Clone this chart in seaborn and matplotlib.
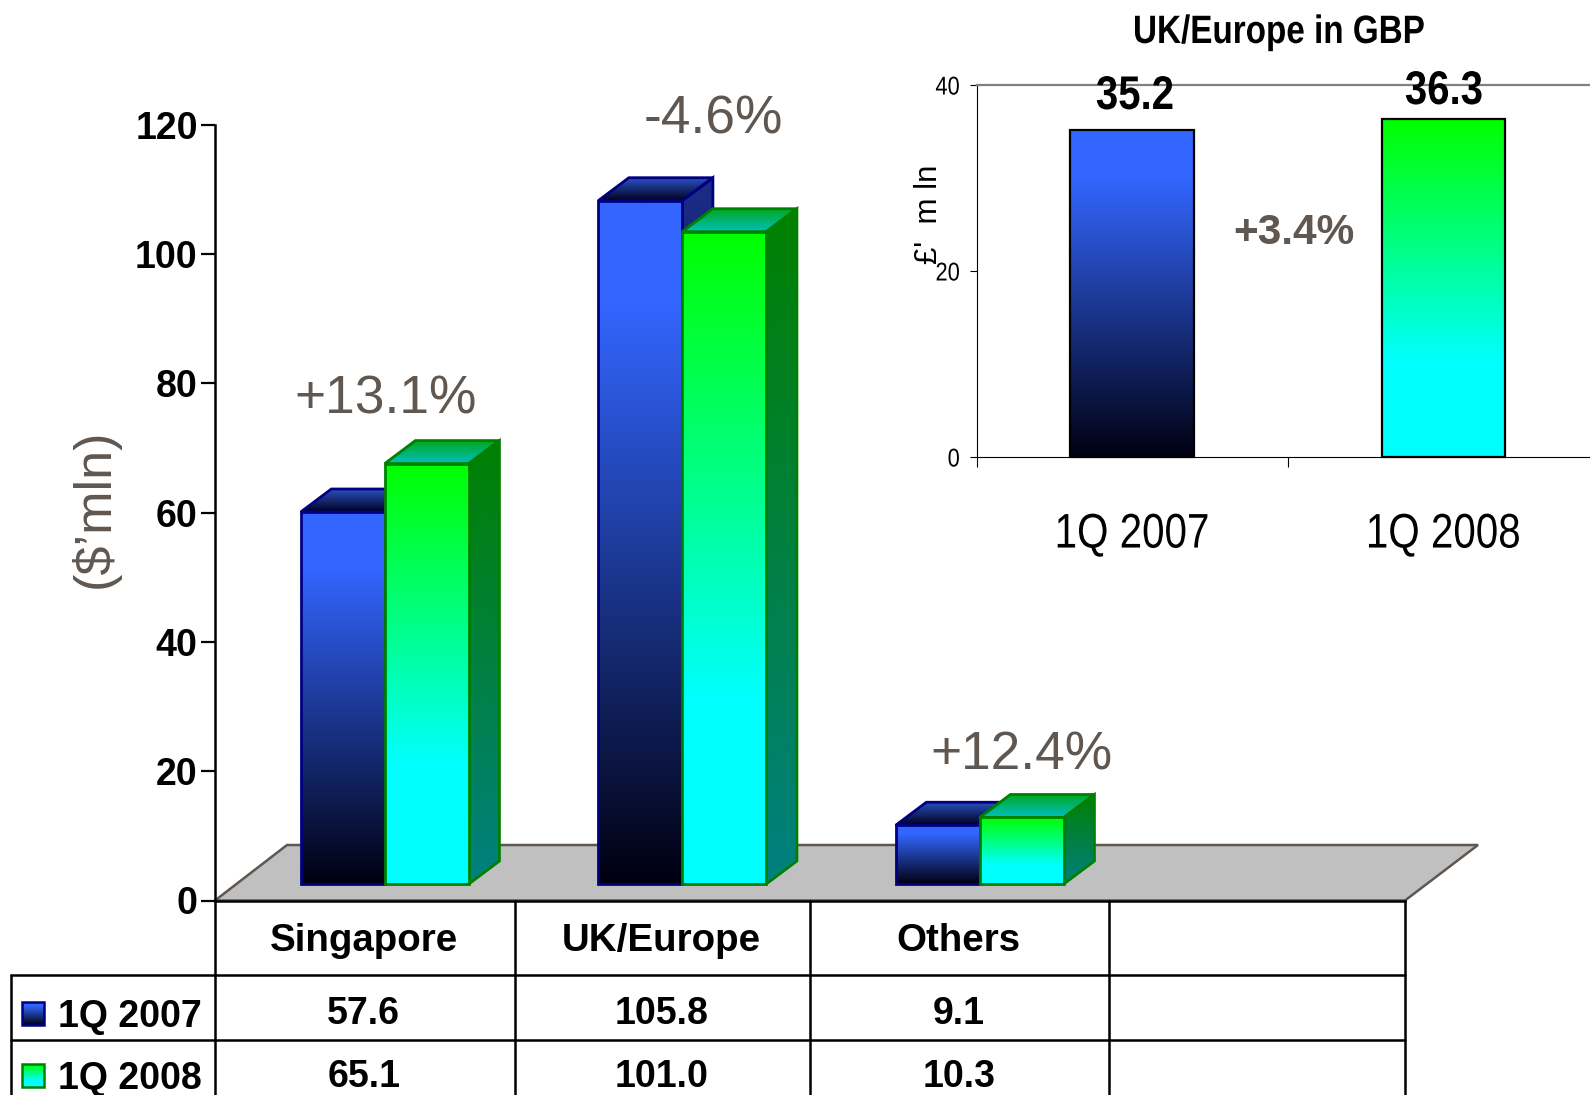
import numpy as np
import pandas as pd
import matplotlib
matplotlib.use("Agg")
import matplotlib.pyplot as plt
import matplotlib.patheffects as pe
from matplotlib.colors import LinearSegmentedColormap
from matplotlib.patches import Polygon, Rectangle
from matplotlib.transforms import Affine2D, blended_transform_factory
import seaborn as sns

# ---------- data ----------
REGIONS = ["Singapore", "UK/Europe", "Others"]
PERIODS = ["1Q 2007", "1Q 2008"]
VALUES_2007 = [57.6, 105.8, 9.1]
VALUES_2008 = [65.1, 101.0, 10.3]
CHANGE_LABELS = ["+13.1%", "-4.6%", "+12.4%"]
GBP_VALUES = [35.2, 36.3]
GBP_CHANGE = "+3.4%"

# ---------- style ----------
W, H = 1590, 1095
BLUE_STOPS = [(0, "#3366FF"), (0.15, "#3366FF"), (1, "#000010")]
GREEN_STOPS = [(0, "#00FF00"), (0.72, "#00FFFF"), (1, "#00FFFF")]
SIDE = [[(0, "#1C2C86"), (1, "#000030")], [(0, "#008000"), (1, "#008080")]]
TOP = [[(0, "#2A50C0"), (1, "#000020")], [(0, "#00A820"), (1, "#00C0C0")]]
FRONT = [BLUE_STOPS, GREEN_STOPS]
EDGE = ["#000080", "#008000"]
BROWN = "#5F5750"
DEPTH_X, DEPTH_Y = 0.103, 3.56

sns.set_style("white")
plt.rcParams["font.family"] = ["Liberation Sans", "DejaVu Sans"]
plt.rcParams["text.color"] = "black"
plt.rcParams["xtick.color"] = "black"
plt.rcParams["ytick.color"] = "black"


class Squeeze(pe.AbstractPathEffect):
    """Condense a real text horizontally around a display x position."""

    def __init__(self, sx, cx):
        super().__init__()
        self.sx, self.cx = sx, cx

    def draw_path(self, renderer, gc, tpath, affine, rgbFace=None):
        squeeze = Affine2D().translate(-self.cx, 0).scale(self.sx, 1).translate(self.cx, 0)
        renderer.draw_path(gc, tpath, affine + squeeze, rgbFace)


def rect(l, t, r, b):
    return [l / W, (H - b) / H, (r - l) / W, (b - t) / H]


def gradient(ax, x0, x1, ybottom, ytop, stops, clip, z):
    cmap = LinearSegmentedColormap.from_list("g", stops)
    im = ax.imshow(np.linspace(0, 1, 256)[:, None], cmap=cmap, vmin=0, vmax=1,
                   extent=(x0, x1, ybottom, ytop), origin="upper",
                   aspect="auto", zorder=z, interpolation="bilinear")
    im.set_clip_path(clip)
    return im


fig = plt.figure(figsize=(W / 100, H / 100), dpi=100, facecolor="white")

# ---------- pixel canvas: floor, table, free text ----------
canvas = fig.add_axes([0, 0, 1, 1], zorder=0)
canvas.axis("off")
canvas.add_patch(Polygon([(215, 900.5), (1405, 900.5), (1478, 845), (287, 845)],
                         closed=True, fc="#C0C0C0", ec=BROWN, lw=1.8, zorder=1))
for y, x0 in [(974.5, 11), (1039.5, 11)]:
    canvas.plot([x0, 1405], [y, y], color="black", lw=1.8, zorder=2)
for x, y0 in [(11, 974.5), (215, 900.5), (515, 900.5), (810, 900.5), (1109, 900.5), (1405, 900.5)]:
    canvas.plot([x, x], [y0, 1095], color="black", lw=1.8, zorder=2)

# ---------- frame axes with the value scale ----------
frame = fig.add_axes(rect(215, 125, 1405, 900.5), zorder=1)
frame.patch.set_alpha(0)
frame.set_xlim(-0.5, 3.5)
frame.set_ylim(0, 120)
frame.set_xticks([])
frame.set_yticks(range(0, 121, 20))
frame.set_yticklabels([str(v) for v in range(0, 121, 20)], fontsize=27, fontweight="bold")
frame.tick_params(axis="y", left=True, length=10, width=1.6, pad=2.5, color="black")
for s in ["top", "right"]:
    frame.spines[s].set_visible(False)
for s in ["left", "bottom"]:
    frame.spines[s].set_color("black")
    frame.spines[s].set_linewidth(1.8)

# ---------- 3D-looking bars ----------
bars_ax = fig.add_axes(rect(236, 109, 1426, 884), zorder=2)
bars_ax.patch.set_alpha(0)
df = pd.DataFrame({
    "region": REGIONS * 2,
    "period": [PERIODS[0]] * len(REGIONS) + [PERIODS[1]] * len(REGIONS),
    "value": VALUES_2007 + VALUES_2008,
})
sns.barplot(data=df, x="region", y="value", hue="period", order=REGIONS + [""],
            hue_order=PERIODS, palette=["#3366FF", "#00FF00"], width=0.565, gap=0,
            errorbar=None, legend=False, ax=bars_ax)
bars_ax.set_xlim(-0.5, 3.5)
bars_ax.set_ylim(0, 120)
bars_ax.axis("off")

for s_i, container in enumerate(bars_ax.containers):
    base = 10 + s_i * 10
    for p in container:
        h = p.get_height()
        if not np.isfinite(h):
            continue
        x0, x1 = p.get_x(), p.get_x() + p.get_width()
        top_face = Polygon([(x0, h), (x1, h), (x1 + DEPTH_X, h + DEPTH_Y), (x0 + DEPTH_X, h + DEPTH_Y)],
                           closed=True, fc="none", ec=EDGE[s_i], lw=2, zorder=base + 2)
        side_face = Polygon([(x1, 0), (x1 + DEPTH_X, DEPTH_Y), (x1 + DEPTH_X, h + DEPTH_Y), (x1, h)],
                            closed=True, fc="none", ec=EDGE[s_i], lw=2, zorder=base + 2)
        bars_ax.add_patch(top_face)
        bars_ax.add_patch(side_face)
        gradient(bars_ax, x0, x1 + DEPTH_X, h, h + DEPTH_Y, TOP[s_i], top_face, base + 1)
        gradient(bars_ax, x1, x1 + DEPTH_X, 0, h + DEPTH_Y, SIDE[s_i], side_face, base + 1)
        gradient(bars_ax, x0, x1, 0, h, FRONT[s_i], p, base + 3)
        p.set_facecolor("none")
        p.set_edgecolor(EDGE[s_i])
        p.set_linewidth(2)
        p.set_zorder(base + 4)
        p.set_clip_on(False)
bars_ax.set_xlim(-0.5, 3.5)
bars_ax.set_ylim(0, 120)

# ---------- table text ----------
col = blended_transform_factory(frame.transData, canvas.transData)
for i, name in enumerate(REGIONS):
    canvas.text(i, 941, name, transform=col, ha="center", va="center", fontsize=27.7, fontweight="bold", zorder=5)
    canvas.text(i, 1014, f"{VALUES_2007[i]:.1f}", transform=col, ha="center", va="center", fontsize=27, fontweight="bold", zorder=5)
    canvas.text(i, 1077, f"{VALUES_2008[i]:.1f}", transform=col, ha="center", va="center", fontsize=27, fontweight="bold", zorder=5)

for label, y_text, y_key, stops, edge in [
    (PERIODS[0], 1017, 1002, BLUE_STOPS, EDGE[0]),
    (PERIODS[1], 1079, 1064, GREEN_STOPS, EDGE[1]),
]:
    key = Rectangle((22, y_key), 22, 23, fc="none", ec=edge, lw=1.8, zorder=6)
    canvas.add_patch(key)
    gradient(canvas, 22, 44, y_key + 23, y_key, stops, key, 5)
    canvas.text(58, y_text, label, ha="left", va="center", fontsize=27, fontweight="bold", zorder=5)

# ---------- free labels ----------
for txt, x, y in zip(CHANGE_LABELS, [386, 713, 1021], [399, 120, 755]):
    canvas.text(x, y, txt, ha="center", va="center", fontsize=38.3, color=BROWN, zorder=5)
canvas.text(95, 508, "($\u2019mln)", rotation=90, ha="center", va="center", fontsize=37.5, color=BROWN, zorder=5)

canvas.set_xlim(0, W)
canvas.set_ylim(H, 0)

# ---------- inset ----------
inset = fig.add_axes(rect(976.5, 85, 1599, 457), zorder=3)
inset.patch.set_alpha(0)
inset_df = pd.DataFrame({"period": PERIODS, "value": GBP_VALUES})
sns.barplot(data=inset_df, x="period", y="value", hue="period", palette=["#3366FF", "#00FF00"],
            width=0.397, errorbar=None, legend=False, ax=inset)
inset.set_xlim(-0.5, 1.5)
inset.set_ylim(0, 40)
inset.set_xlabel("")
inset.set_ylabel("")
for s_i, p in enumerate(c[0] for c in inset.containers):
    x0, x1, h = p.get_x(), p.get_x() + p.get_width(), p.get_height()
    gradient(inset, x0, x1, 0, h, FRONT[s_i], p, 3)
    p.set_facecolor("none")
    p.set_edgecolor("black")
    p.set_linewidth(1.6)
    p.set_zorder(4)
    p.set_clip_on(False)
inset.set_xlim(-0.5, 1.5)
inset.set_ylim(0, 40)
inset.set_yticks([0, 20, 40])
inset.set_yticklabels(["0", "20", "40"], fontsize=18.5)
for lab in inset.get_yticklabels():
    lab.set_path_effects([Squeeze(0.85, 960)])
inset.tick_params(axis="y", left=True, length=5, width=0.8, pad=7, color="black")
inset.set_xticks([0, 1])
inset.set_xticklabels(PERIODS, fontsize=35)
for i, lab in enumerate(inset.get_xticklabels()):
    lab.set_path_effects([Squeeze(0.83, inset.transData.transform((i, 0))[0])])
inset.tick_params(axis="x", which="major", bottom=False, pad=36.5)
inset.set_xticks([-0.5, 0.5, 1.5], minor=True)
inset.tick_params(axis="x", which="minor", bottom=True, length=7, width=0.8, color="black")
inset.spines["right"].set_visible(False)
inset.spines["top"].set_color("#808080")
inset.spines["top"].set_linewidth(1.6)
inset.spines["left"].set_color("black")
inset.spines["left"].set_linewidth(0.8)
inset.spines["bottom"].set_color("black")
inset.spines["bottom"].set_linewidth(0.8)

top = fig.add_axes([0, 0, 1, 1], zorder=4)
top.axis("off")
top.set_xlim(0, W)
top.set_ylim(H, 0)
top.text(1279, 32, "UK/Europe in GBP", ha="center", va="center", fontsize=28.5, fontweight="bold",
         path_effects=[Squeeze(0.84, 1279)])
top.text(1135, 97, f"{GBP_VALUES[0]:.1f}", ha="center", va="center", fontsize=34, fontweight="bold",
         path_effects=[Squeeze(0.85, 1135)])
top.text(1444, 92, f"{GBP_VALUES[1]:.1f}", ha="center", va="center", fontsize=34, fontweight="bold",
         path_effects=[Squeeze(0.85, 1444)])
top.text(1294, 233, GBP_CHANGE, ha="center", va="center", fontsize=30.5, fontweight="bold", color=BROWN)
top.text(929, 214, "\u00a3'  m ln", rotation=90, ha="center", va="center", fontsize=22.5, color="black")

fig.savefig("out.png", dpi=100, facecolor="white")
